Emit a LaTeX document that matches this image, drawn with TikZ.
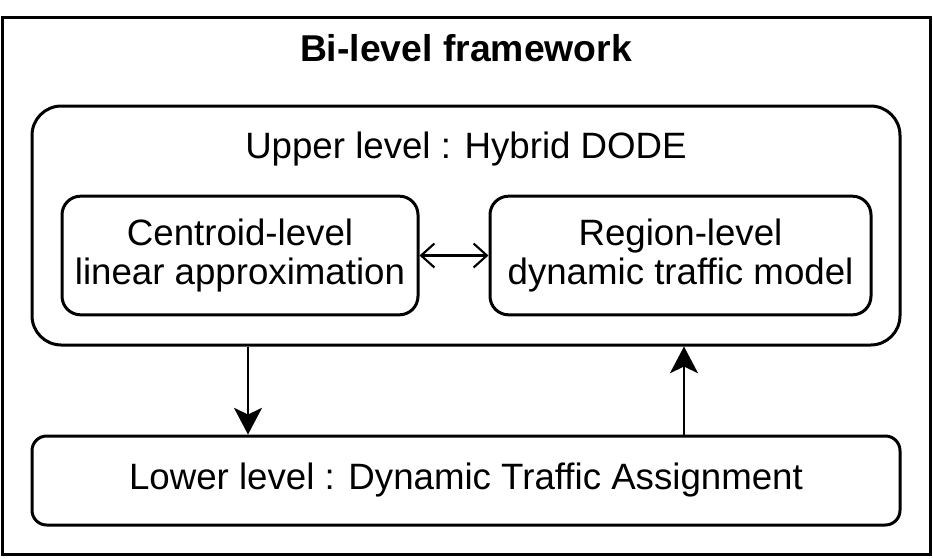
\documentclass[tikz,border=0pt]{standalone}
\usepackage{fontspec}
\setmainfont{Liberation Sans}
\usetikzlibrary{positioning}
\usetikzlibrary{arrows.meta}
\tikzset{
every node/.style={ % Sets the font for every label
        font=\fontsize{27.5}{29}\selectfont
    },
levelbox/.style={ % Outer level boxes
        draw,
        line width=2.25pt,
        rounded corners=22pt,
        minimum width=651pt
    },
modelbox/.style={ % Inner model boxes
        draw,
        line width=2.25pt,
        rounded corners=14pt,
        minimum height=89pt,
        align=center
    },
flow/.style={ % Vertical connectors between levels
        draw,
        line width=1.5pt,
        -{Stealth[length=20pt,width=21pt,inset=5pt]}
    },
coupling/.style={ % Two-way link between models
        draw,
        line width=1.6pt,
        {Straight Barb[length=10pt,width=18pt]}-{Straight Barb[length=10pt,width=18pt]}
    }
}

\begin{document}
\begin{tikzpicture}[x=0.75pt,y=-0.75pt]
\useasboundingbox (0,0) rectangle (933,558);
\node [draw,line width=2.25pt,minimum width=696pt,minimum height=402.75pt] (frame) at (466,285.5) {};
\node [font=\fontsize{28}{30}\selectfont\bfseries] (title) at (466,48) {Bi-level framework};
%%%%%%%%%%%%%%%%%%%%%%%%%%%%%%%%%%
\node [levelbox,minimum height=179.25pt] (upper) at (466,225.5) {};
\node (uppertext) at (466,149) {Upper level : Hybrid DODE};
\node [modelbox,minimum width=267pt] (centroid) at (240,255.5) {Centroid-level\\linear approximation};
\node [modelbox,minimum width=285.75pt] (region) at (680.5,255.5) {Region-level\\dynamic traffic model};
%%%%%%%%%%%%%%%%%%%%%%%%%%%%%%%%%%
\node [levelbox,rounded corners=11pt,minimum height=66.75pt] (lower) at (466,480.5) {Lower level : Dynamic Traffic Assignment};
\coordinate (down) at (248,0);
\coordinate (up) at (684,0);

\draw
    (centroid) edge[coupling] (region)
    (upper.south -| down) edge[flow] (lower.north -| down)
    (lower.north -| up) edge[flow] (upper.south -| up)
    ;
\end{tikzpicture}
\end{document}
